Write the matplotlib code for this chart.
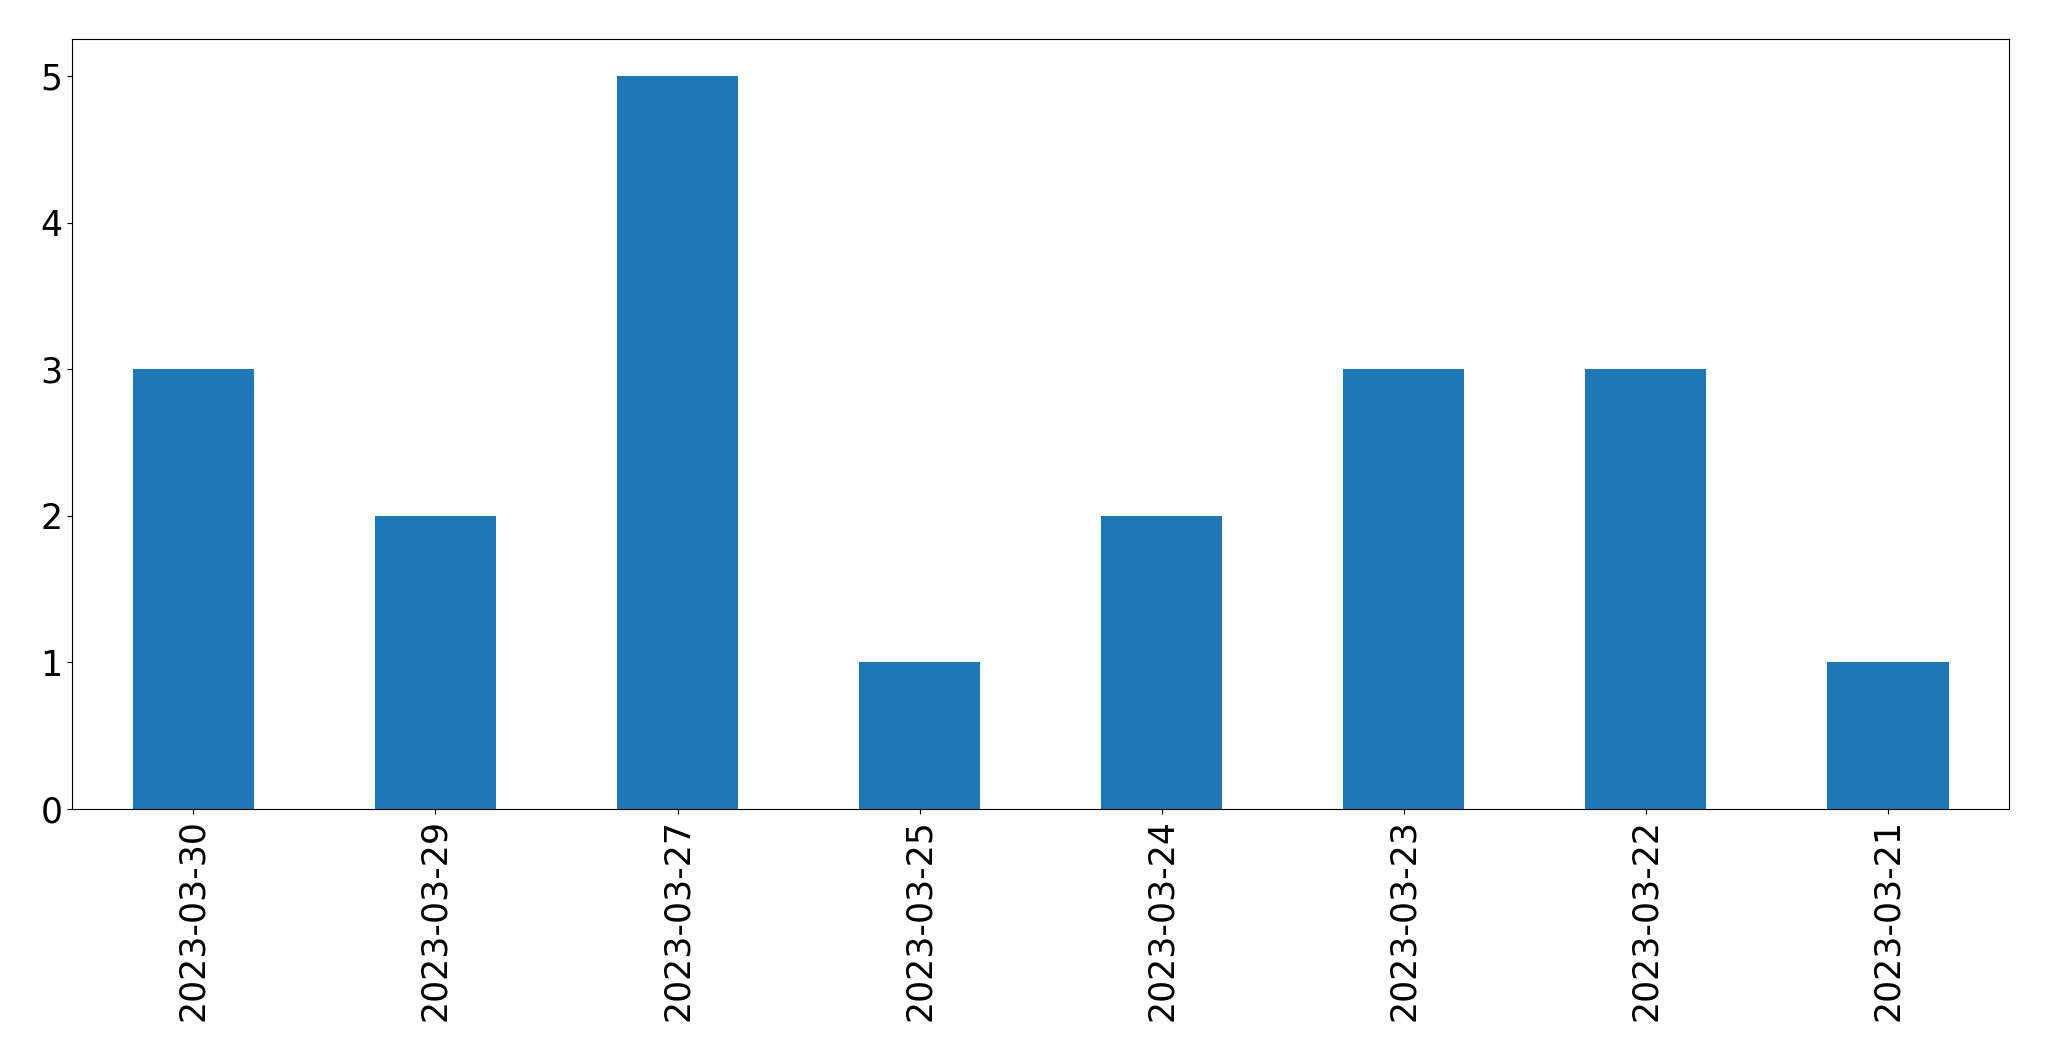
import matplotlib
matplotlib.use("Agg")
import matplotlib.pyplot as plt
import pandas as pd

dates = ["2023-03-30", "2023-03-29", "2023-03-27", "2023-03-25",
         "2023-03-24", "2023-03-23", "2023-03-22", "2023-03-21"]
counts = [3, 2, 5, 1, 2, 3, 3, 1]

s = pd.Series(counts, index=dates)

fig = plt.figure(figsize=(20.49, 10.61), dpi=100)
ax = fig.add_axes([0.0353, 0.2375, 0.9452, 0.7255])
s.plot(kind="bar", ax=ax, color="#1f77b4")
ax.tick_params(axis="both", labelsize=25)
fig.savefig("out.png", dpi=100)
